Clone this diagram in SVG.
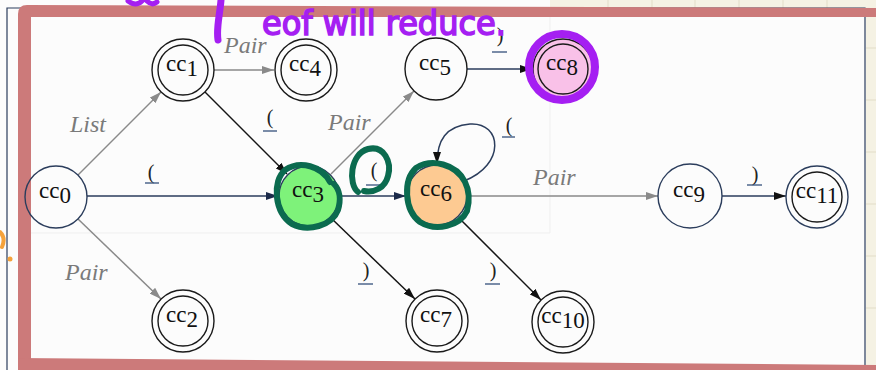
<svg xmlns="http://www.w3.org/2000/svg" width="876" height="370" viewBox="0 0 876 370">
<style>
.nd{fill:none;stroke:#1a1a1a;stroke-width:1.4}
.nv{fill:none;stroke:#2b3d5c;stroke-width:1.4}
.lb{font-size:23px;fill:#111;text-anchor:middle}
.el{font-size:24px;font-style:italic;fill:#7a7a7a}
.pr{font-size:20px;fill:#222;text-anchor:middle}
.ul{stroke:#34507a;stroke-width:1.3}
.eg{fill:none;stroke:#8a8a8a;stroke-width:1.5}
.eb{fill:none;stroke:#151515;stroke-width:1.5}
.en{fill:none;stroke:#2b3d5c;stroke-width:1.5}
.ann{fill:none;stroke:#0b6b4f;stroke-width:6;stroke-linecap:round}
</style>
<defs>
<marker id="ag" viewBox="0 0 12 8" refX="12" refY="4" markerWidth="12" markerHeight="8" markerUnits="userSpaceOnUse" orient="auto"><path d="M0,0 L12,4 L0,8 Z" fill="#8a8a8a"/></marker>
<marker id="ab" viewBox="0 0 12 8" refX="12" refY="4" markerWidth="12" markerHeight="8" markerUnits="userSpaceOnUse" orient="auto"><path d="M0,0 L12,4 L0,8 Z" fill="#111"/></marker>
<marker id="an" viewBox="0 0 12 8" refX="12" refY="4" markerWidth="12" markerHeight="8" markerUnits="userSpaceOnUse" orient="auto"><path d="M0,0 L12,4 L0,8 Z" fill="#1c2b4a"/></marker>
</defs>
<!-- background -->
<rect x="0" y="0" width="876" height="370" fill="#fcfcfc"/>
<rect x="550" y="0" width="326" height="8" fill="#f5f2e4"/>
<rect x="866" y="0" width="10" height="370" fill="#f5f2e4"/>
<g stroke="#e2ddc8" stroke-width="1">
<line x1="608" y1="0" x2="608" y2="8"/><line x1="652" y1="0" x2="652" y2="8"/><line x1="695" y1="0" x2="695" y2="8"/><line x1="739" y1="0" x2="739" y2="8"/><line x1="783" y1="0" x2="783" y2="8"/><line x1="827" y1="0" x2="827" y2="8"/>
<line x1="866" y1="48" x2="876" y2="48"/><line x1="866" y1="100" x2="876" y2="100"/><line x1="866" y1="152" x2="876" y2="152"/><line x1="866" y1="204" x2="876" y2="204"/><line x1="866" y1="256" x2="876" y2="256"/><line x1="866" y1="308" x2="876" y2="308"/>
</g>
<path d="M7,370 L7,8 L865,8 L865,370" fill="none" stroke="#2b3d5c" stroke-width="1.2"/>
<path d="M550,17 L550,233 L31,233" fill="none" stroke="#efefef" stroke-width="1"/>
<!-- red frame -->
<g fill="#cc7a7a">
<path d="M18,14 Q18,5 27,5 L876,8 L876,17 L18,17 Z"/>
<rect x="18" y="14" width="13" height="356"/>
<path d="M18,358 L876,365 L876,370 L18,370 Z"/>
</g>
<!-- connectors -->
<g id="connectors" font-family="Liberation Serif, Times New Roman, serif">
<line class="eg" x1="78" y1="175" x2="161" y2="92" marker-end="url(#ag)"/>
<line class="eg" x1="214" y1="70" x2="274" y2="70" marker-end="url(#ag)"/>
<line class="eb" x1="205" y1="92" x2="287" y2="174" marker-end="url(#ab)"/>
<line class="en" x1="87" y1="196" x2="278" y2="196" marker-end="url(#an)"/>
<line class="eg" x1="331" y1="174" x2="414" y2="91" marker-end="url(#ag)"/>
<line class="en" x1="467" y1="69" x2="532" y2="69" marker-end="url(#ab)"/>
<line class="en" x1="340" y1="196" x2="406" y2="196" marker-end="url(#an)"/>
<path class="en" d="M464,181 C506,165 502,122 470,124 C446,126 437,140 437,164" marker-end="url(#ab)"/>
<line class="eg" x1="468" y1="196" x2="658" y2="196" marker-end="url(#ag)"/>
<line class="en" x1="722" y1="196" x2="786" y2="196" marker-end="url(#ab)"/>
<line class="eg" x1="78" y1="219" x2="161" y2="299" marker-end="url(#ag)"/>
<line class="eb" x1="331" y1="218" x2="415" y2="299" marker-end="url(#ab)"/>
<line class="eb" x1="459" y1="218" x2="541" y2="300" marker-end="url(#ab)"/>
<!-- edge labels -->
<text class="el" x="70" y="132">List</text>
<text class="el" x="224" y="53">Pair</text>
<text class="el" x="328" y="130">Pair</text>
<text class="el" x="533" y="185">Pair</text>
<text class="el" x="65" y="280">Pair</text>
<text class="pr" x="270" y="124">(</text><line class="ul" x1="263" y1="131" x2="277" y2="131"/>
<text class="pr" x="151" y="179">(</text><line class="ul" x1="145" y1="183" x2="159" y2="183"/>
<text class="pr" x="500" y="42">)</text><line class="ul" x1="492" y1="52" x2="507" y2="52"/>
<text class="pr" x="374" y="177">(</text><line class="ul" x1="366" y1="185" x2="381" y2="185"/>
<text class="pr" x="509" y="132">(</text><line class="ul" x1="502" y1="137" x2="515" y2="137"/>
<text class="pr" x="755" y="181">)</text><line class="ul" x1="747" y1="185" x2="762" y2="185"/>
<text class="pr" x="366" y="277">)</text><line class="ul" x1="358" y1="284" x2="373" y2="284"/>
<text class="pr" x="493" y="277">)</text><line class="ul" x1="485" y1="284" x2="500" y2="284"/>
</g>
<!-- nodes -->
<g font-family="Liberation Serif, Times New Roman, serif">
<g id="cc0"><circle class="nv" cx="56" cy="197" r="31"/><text class="lb" x="55" y="198">cc<tspan dy="5">0</tspan></text></g>
<g id="cc1"><circle class="nd" cx="183" cy="70" r="31"/><circle class="nd" cx="183" cy="70" r="25"/><text class="lb" x="182" y="71">cc<tspan dy="5">1</tspan></text></g>
<g id="cc2"><circle class="nd" cx="183" cy="321" r="31"/><circle class="nd" cx="183" cy="321" r="25"/><text class="lb" x="182" y="322">cc<tspan dy="5">2</tspan></text></g>
<g id="cc3"><circle cx="309" cy="196" r="30" fill="#7ef27a" stroke="#2b3d5c" stroke-width="1.4"/><text class="lb" x="308" y="197">cc<tspan dy="5">3</tspan></text></g>
<g id="cc4"><circle class="nd" cx="306" cy="70" r="31"/><circle class="nd" cx="306" cy="70" r="25"/><text class="lb" x="305" y="71">cc<tspan dy="5">4</tspan></text></g>
<g id="cc5"><circle class="nd" cx="436" cy="69" r="31"/><text class="lb" x="435" y="70">cc<tspan dy="5">5</tspan></text></g>
<g id="cc6"><circle cx="437" cy="195" r="30" fill="#fdca92" stroke="#2b3d5c" stroke-width="1.4"/><text class="lb" x="436" y="196">cc<tspan dy="5">6</tspan></text></g>
<g id="cc7"><circle class="nd" cx="437" cy="321" r="31"/><circle class="nd" cx="437" cy="321" r="25"/><text class="lb" x="436" y="322">cc<tspan dy="5">7</tspan></text></g>
<g id="cc8"><circle cx="563" cy="69" r="30" fill="#f9c1e8" stroke="#1a1a1a" stroke-width="1.4"/><circle class="nd" cx="563" cy="69" r="25"/><text class="lb" x="562" y="70">cc<tspan dy="5">8</tspan></text></g>
<g id="cc9"><circle class="nv" cx="690" cy="196" r="32"/><text class="lb" x="689" y="197">cc<tspan dy="5">9</tspan></text></g>
<g id="cc10"><circle class="nd" cx="563" cy="322" r="31"/><circle class="nd" cx="563" cy="322" r="25"/><text class="lb" x="563" y="323">cc<tspan dy="5">10</tspan></text></g>
<g id="cc11"><circle class="nv" cx="817" cy="197" r="31"/><circle class="nd" cx="817" cy="197" r="25"/><text class="lb" x="817" y="198">cc<tspan dy="5">11</tspan></text></g>
</g>
<!-- annotations -->
<g id="annotations">
<circle cx="562" cy="67" r="33" fill="none" stroke="#a51ff2" stroke-width="8"/>
<path class="ann" d="M330,182 C322,166 300,160 285,170 C272,181 274,212 292,224 C308,232 332,226 338,210 C341,200 340,190 334,184"/>
<path class="ann" d="M465,182 C456,164 432,158 416,168 C403,180 404,210 420,222 C436,232 460,226 467,211 C470,200 469,190 465,182"/>
<path class="ann" d="M358,192 C348,184 350,154 368,149 C384,145 392,162 388,176 C385,188 374,193 364,191"/>
<text x="262" y="35" font-family="DejaVu Sans Condensed, DejaVu Sans, sans-serif" font-size="34" fill="#a51ff2" stroke="#a51ff2" stroke-width="1.5" textLength="244" lengthAdjust="spacingAndGlyphs">eof will reduce.</text>
<path d="M221,0 C220,14 216,28 218,40" fill="none" stroke="#a51ff2" stroke-width="7" stroke-linecap="round"/>
<path d="M128,1 Q136,7 142,1 M147,1 Q152,6 157,2" fill="none" stroke="#a51ff2" stroke-width="5" stroke-linecap="round"/>
<path d="M0,232 Q6,238 2,247" fill="none" stroke="#f5a23a" stroke-width="4" stroke-linecap="round"/>
<circle cx="10" cy="259" r="2.5" fill="#f5a23a"/>
</g>
</svg>
